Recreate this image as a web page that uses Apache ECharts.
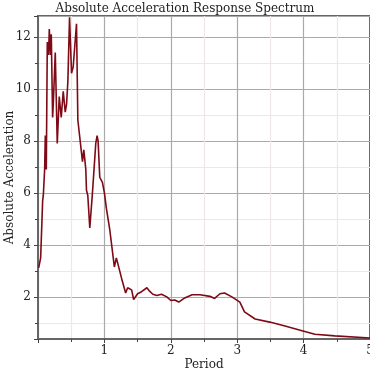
<!DOCTYPE html>
<html><head><meta charset="utf-8">
<script src="https://cdn.jsdelivr.net/npm/echarts@6/dist/echarts.min.js"></script>
<style>html,body{margin:0;padding:0;background:#fff}#c{width:370px;height:370px}</style>
</head><body><div id="c"></div>
<script>
var titleText = "Absolute Acceleration Response Spectrum";
var xName = "Period";
var yName = "Absolute Acceleration";
var periods = [0.01,0.04,0.07,0.08,0.09,0.10,0.11,0.125,0.14,0.16,0.17,0.19,0.20,0.22,0.23,0.26,0.29,0.32,0.35,0.38,0.41,0.43,0.45,0.475,0.505,0.53,0.55,0.58,0.60,0.67,0.69,0.72,0.73,0.75,0.78,0.82,0.87,0.89,0.905,0.93,0.96,0.97,1.0,1.03,1.08,1.15,1.18,1.21,1.26,1.32,1.35,1.41,1.44,1.50,1.56,1.64,1.68,1.73,1.79,1.86,1.94,2.00,2.06,2.12,2.21,2.32,2.44,2.59,2.66,2.74,2.81,2.92,3.04,3.11,3.27,3.49,3.72,3.99,4.17,4.47,5.0];
var accel =   [3.12,3.5,5.7,5.9,5.85,6.9,8.2,6.9,11.8,11.3,12.3,11.3,12.1,8.9,9.4,11.4,7.9,9.7,8.9,9.9,9.1,9.4,10.3,12.75,10.6,10.85,10.8,12.5,8.8,7.2,7.65,6.9,6.1,5.9,4.65,6.0,7.9,8.2,8.0,6.6,6.6,6.4,6.0,5.4,4.6,3.15,3.5,3.2,2.7,2.15,2.35,2.27,1.9,2.12,2.2,2.35,2.22,2.1,2.05,2.1,2.0,1.86,1.88,1.8,1.96,2.08,2.08,2.02,1.94,2.12,2.15,2.0,1.8,1.42,1.15,1.03,0.88,0.69,0.56,0.5,0.42];

var pts = periods.map(function(p,i){return [p, accel[i]];});
var serif = "DejaVu Serif";
var chart = echarts.init(document.getElementById('c'), null, {renderer:'canvas'});
chart.setOption({
  animation:false,
  backgroundColor:'#fff',
  title:{text:titleText,left:'center',top:-2,textStyle:{fontFamily:serif,fontSize:12,fontWeight:'normal',color:'#222'}},
  grid:{left:38,top:16,right:0,bottom:31,outerBoundsMode:'none',containLabel:false,show:true,borderColor:'#666',borderWidth:2,backgroundColor:'transparent'},
  xAxis:{type:'value',min:0,max:5,interval:1,name:xName,nameLocation:'middle',nameGap:20,nameMoveOverlap:false,
    nameTextStyle:{fontFamily:serif,fontSize:12,color:'#222'},
    axisLine:{lineStyle:{color:'#666',width:2}},
    axisTick:{show:true,length:4,lineStyle:{color:'#444'}},
    minorTick:{show:true,splitNumber:2,length:3,lineStyle:{color:'#444'}},
    axisLabel:{fontFamily:serif,fontSize:12,color:'#222',margin:6,showMinLabel:false},
    splitLine:{show:true,lineStyle:{color:'#aaa',width:1.2}},
    minorSplitLine:{show:true,lineStyle:{color:'#eee6e8',width:1.2}}},
  yAxis:{type:'value',min:0.38,max:12.8,name:yName,nameLocation:'middle',nameGap:22,nameMoveOverlap:false,
    nameTextStyle:{fontFamily:serif,fontSize:12,color:'#222'},
    axisLine:{show:true,lineStyle:{color:'#666',width:2}},
    axisTick:{show:true,length:4,lineStyle:{color:'#444'}},
    minorTick:{show:true,splitNumber:2,length:3,lineStyle:{color:'#444'}},
    axisLabel:{fontFamily:serif,fontSize:12,color:'#222',margin:7,showMinLabel:false,showMaxLabel:false},
    splitLine:{show:true,lineStyle:{color:'#aaa',width:1.2}},
    minorSplitLine:{show:true,lineStyle:{color:'#eee6e8',width:1.2}}},
  series:[{type:'line',data:pts,showSymbol:false,symbol:'none',lineStyle:{color:'#7d0a16',width:1.6},clip:true}]
});
</script></body></html>
